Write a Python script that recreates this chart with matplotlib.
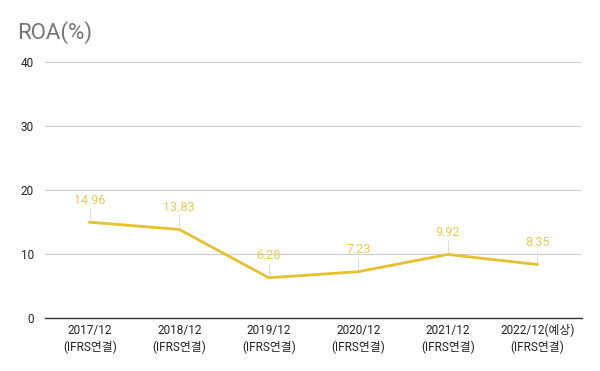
import matplotlib
matplotlib.use("Agg")
import matplotlib.pyplot as plt

plt.rcParams['font.family'] = ['Roboto', 'Noto Sans CJK KR', 'DejaVu Sans']

categories = ["2017/12\n(IFRS연결)", "2018/12\n(IFRS연결)", "2019/12\n(IFRS연결)",
              "2020/12\n(IFRS연결)", "2021/12\n(IFRS연결)", "2022/12(예상)\n(IFRS연결)"]
roa = [14.96, 13.83, 6.28, 7.23, 9.92, 8.35]
yticks = [0, 10, 20, 30, 40]

line_color = "#E5C12E"
label_color = "#E8CA55"

fig = plt.figure(figsize=(6, 3.71), dpi=100)
ax = fig.add_axes([0.075, 0.143, 0.895, 0.69])

x = list(range(len(categories)))
ax.plot(x, roa, color=line_color, linewidth=2, zorder=3)

for xi, v in zip(x, roa):
    ax.plot([xi, xi], [v, v + 2.2], color="#dddddd", linewidth=0.7, zorder=2)
    ax.text(xi, v + 2.4, f"{v:.2f}", color=label_color, fontsize=9,
            ha="center", va="bottom", zorder=4)

ax.set_xlim(-0.5, len(categories) - 0.5)
ax.set_ylim(0, 40)
ax.set_yticks(yticks)
ax.set_xticks(x)
ax.set_xticklabels(categories, fontsize=8.5, color="#222222", linespacing=1.35)
ax.tick_params(axis="y", labelsize=8.5, colors="#222222", length=0, pad=8)
ax.tick_params(axis="x", length=0, pad=4)
ax.grid(axis="y", color="#cccccc", linewidth=0.8)
ax.set_axisbelow(True)
for s in ["top", "right", "left"]:
    ax.spines[s].set_visible(False)
ax.spines["bottom"].set_color("#333333")
ax.spines["bottom"].set_linewidth(1)

fig.text(0.028, 0.912, "ROA(%)", fontsize=16, color="#757575", ha="left", va="center")

fig.savefig("out.png", dpi=100)
